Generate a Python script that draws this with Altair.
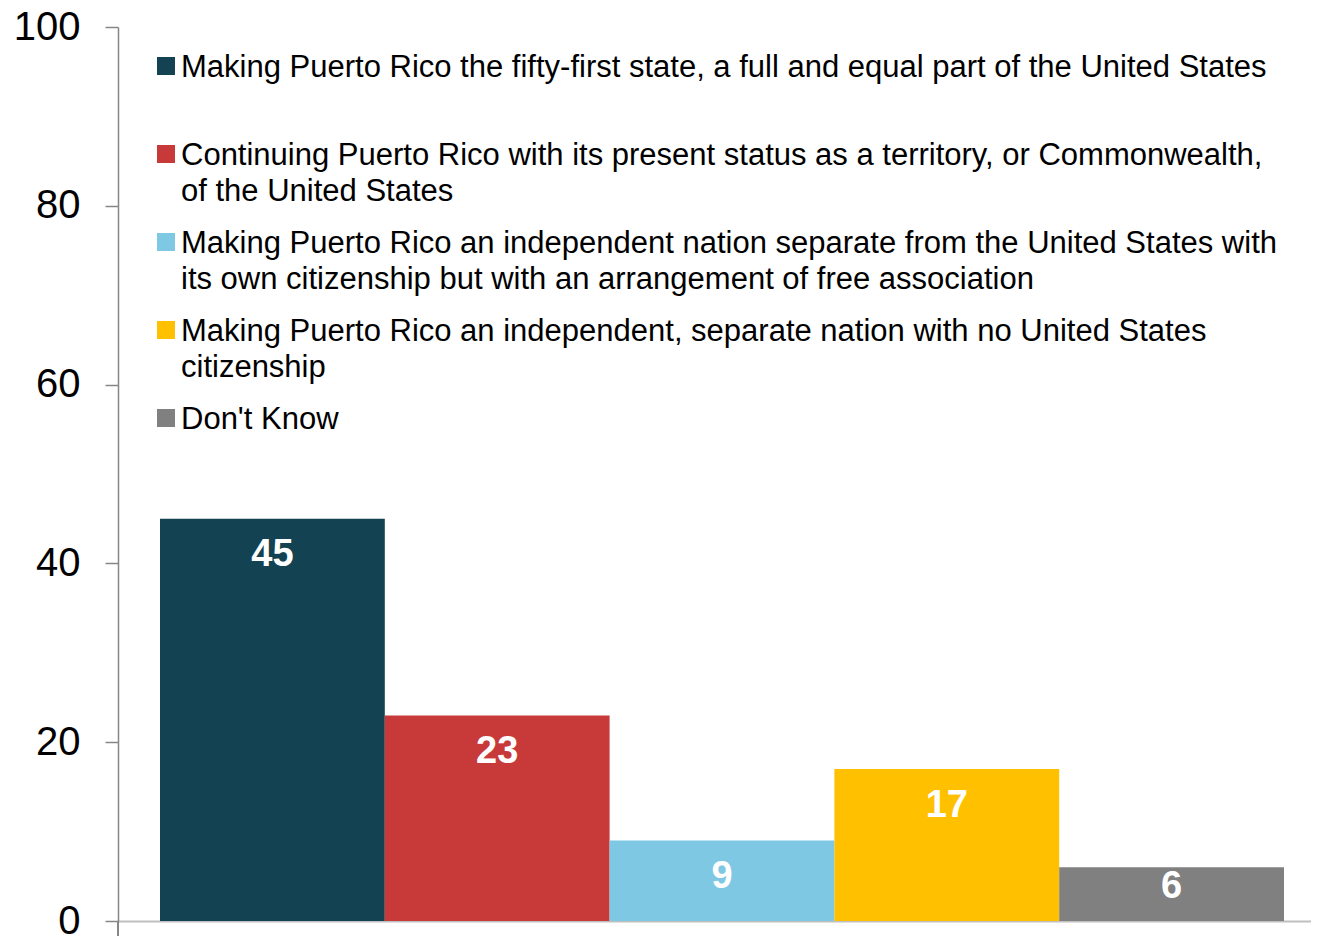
import altair as alt
import pandas as pd

# ---- data ----
categories = ["Statehood", "Commonwealth", "Free association", "Independence", "Don't Know"]
values = [45, 23, 9, 17, 6]
colors = ["#134252", "#C83A3A", "#7EC8E3", "#FFC000", "#808080"]
legend_lines = [
    ["Making Puerto Rico the fifty-first state, a full and equal part of the United States"],
    ["Continuing Puerto Rico with its present status as a territory, or Commonwealth,",
     "of the United States"],
    ["Making Puerto Rico an independent nation separate from the United States with",
     "its own citizenship but with an arrangement of free association"],
    ["Making Puerto Rico an independent, separate nation with no United States",
     "citizenship"],
    ["Don't Know"],
]
y_ticks = [0, 20, 40, 60, 80, 100]

FONT = "Liberation Sans"
AXIS_GRAY = "#868686"

bars_df = pd.DataFrame({"cat": categories, "value": values})
legend_df = pd.DataFrame({
    "idx": list(range(len(categories))),
    "lines": legend_lines,
    "color": colors,
})

x_enc = alt.X(
    "cat:N",
    sort=categories,
    scale=alt.Scale(paddingInner=0, paddingOuter=0.15347, align=0.6087),
    axis=alt.Axis(labels=False, ticks=False, title=None, grid=False,
                  domainColor="#BFBFBF", domainWidth=2),
)
y_scale = alt.Scale(domain=[0, 100], nice=False)

bars = alt.Chart(bars_df).mark_bar().encode(
    x=x_enc,
    y=alt.Y("value:Q", scale=y_scale,
            axis=alt.Axis(values=y_ticks, title=None, grid=False,
                          labelFont=FONT, labelFontSize=40, labelColor="black",
                          labelPadding=25, labelFlush=False, labelOverlap=False,
                          tickSize=13, tickColor=AXIS_GRAY, tickWidth=1.5,
                          domainColor=AXIS_GRAY, domainWidth=1.5)),
    color=alt.Color("cat:N", sort=categories,
                    scale=alt.Scale(domain=categories, range=colors), legend=None),
)

labels = alt.Chart(bars_df).transform_calculate(
    pos="datum.value >= 8 ? datum.value - 4.1 : datum.value - 2.2"
).mark_text(
    font=FONT, fontSize=38, fontWeight="bold", color="white", baseline="middle", align="center"
).encode(
    x=alt.X("cat:N", sort=categories),
    y=alt.Y("pos:Q", scale=y_scale),
    text=alt.Text("value:Q"),
)

axis_ext = alt.Chart(bars_df).mark_rule(color=AXIS_GRAY, strokeWidth=1.5).encode(
    x=alt.value(0), y=alt.value(894), y2=alt.value(910)
)

inner = alt.layer(bars, labels, axis_ext)

leg_y = alt.Y("idx:Q", scale=alt.Scale(domain=[0, 4], range=[39, 391], nice=False, zero=False), axis=None)

leg_sq = alt.Chart(legend_df).mark_square(size=324, opacity=1).encode(
    x=alt.value(48),
    y=leg_y,
    color=alt.Color("color:N", scale=None),
)

leg_txt = alt.Chart(legend_df).mark_text(
    font=FONT, fontSize=31, color="black", align="left", baseline="middle",
    lineHeight=36, dy=2,
).encode(
    x=alt.value(63),
    y=leg_y,
    text="lines",
)

chart = alt.layer(inner, leg_sq, leg_txt).resolve_scale(
    y="independent", color="independent"
).properties(
    width=1193, height=894,
    autosize=alt.AutoSizeParams(type="none"),
    padding={"left": 110, "top": 19, "right": 0, "bottom": 15},
    background="white",
).configure_view(stroke=None)

chart.save("out.html", embed_options={"renderer": "svg", "actions": False})
